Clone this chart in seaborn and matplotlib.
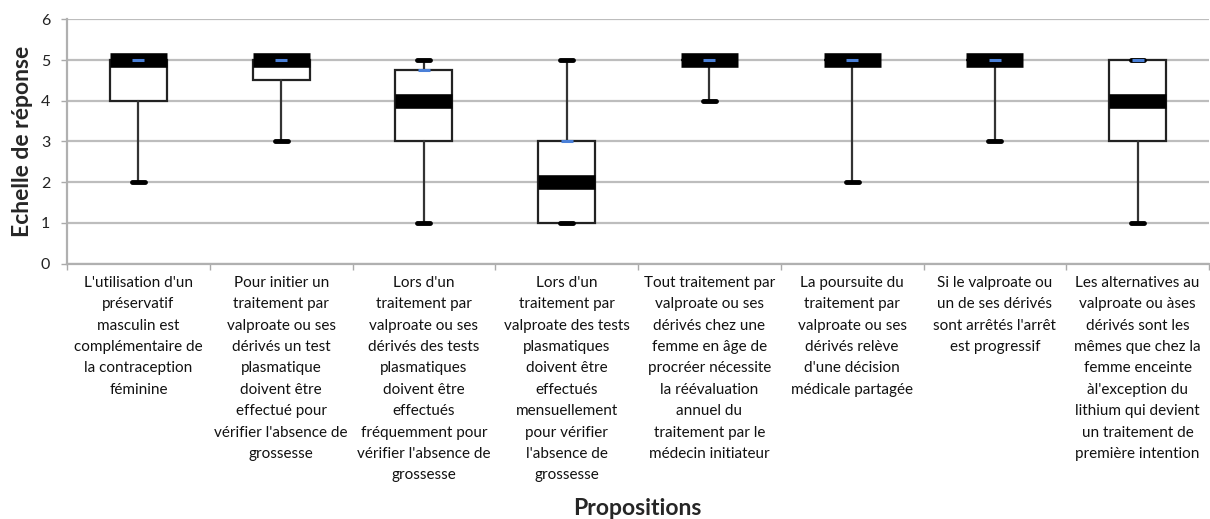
import matplotlib
matplotlib.use("Agg")
import matplotlib.pyplot as plt
import seaborn as sns
import numpy as np

categories = [
    "L'utilisation d'un\npréservatif\nmasculin est\ncomplémentaire de\nla contraception\nféminine",
    "Pour initier un\ntraitement par\nvalproate ou ses\ndérivés un test\nplasmatique\ndoivent être\neffectué pour\nvérifier l'absence de\ngrossesse",
    "Lors d'un\ntraitement par\nvalproate ou ses\ndérivés des tests\nplasmatiques\ndoivent être\neffectués\nfréquemment pour\nvérifier l'absence de\ngrossesse",
    "Lors d'un\ntraitement par\nvalproate des tests\nplasmatiques\ndoivent être\neffectués\nmensuellement\npour vérifier\nl'absence de\ngrossesse",
    "Tout traitement par\nvalproate ou ses\ndérivés chez une\nfemme en âge de\nprocréer nécessite\nla réévaluation\nannuel du\ntraitement par le\nmédecin initiateur",
    "La poursuite du\ntraitement par\nvalproate ou ses\ndérivés relève\nd'une décision\nmédicale partagée",
    "Si le valproate ou\nun de ses dérivés\nsont arrêtés l'arrêt\nest progressif",
    "Les alternatives au\nvalproate ou àses\ndérivés sont les\nmêmes que chez la\nfemme enceinte\nàl'exception du\nlithium qui devient\nun traitement de\npremière intention",
]
mins = [2, 3, 1, 1, 4, 2, 3, 1]
q1 = [4, 4.5, 3, 1, 5, 5, 5, 3]
medians = [5, 5, 4, 2, 5, 5, 5, 4]
q3 = [5, 5, 4.75, 3, 5, 5, 5, 5]
maxs = [5, 5, 5, 5, 5, 5, 5, 5]
y_ticks = [0, 1, 2, 3, 4, 5, 6]

sns.set_theme(style="white")
plt.rcParams['font.family'] = ['Lato', 'DejaVu Sans']

fig = plt.figure(figsize=(12.10, 5.19), dpi=100)
ax = fig.add_axes([67 / 1210, 1 - 263.5 / 519, (1209 - 67) / 1210, (263.5 - 19.3) / 519])

positions = np.arange(len(categories))
stats = []
for i in range(len(categories)):
    stats.append(dict(whislo=mins[i], q1=q1[i], med=medians[i], q3=q3[i], whishi=maxs[i], label=""))

ax.bxp(stats, positions=positions, widths=0.4, showfliers=False, patch_artist=True,
       boxprops=dict(facecolor="white", edgecolor="#222222", linewidth=1.6),
       medianprops=dict(color="black", linewidth=10.5, solid_capstyle="butt"),
       whiskerprops=dict(color="#333333", linewidth=1.6),
       capprops=dict(color="black", linewidth=3.5, solid_capstyle="round"),
       capwidths=0.09, zorder=3)

sns.scatterplot(x=positions, y=q3, marker="_", s=70, color="#4a80d8", linewidth=2.2,
                ax=ax, zorder=6, legend=False)

ax.set_xlim(-0.5, len(categories) - 0.5)
ax.set_ylim(0, 6)
ax.set_yticks(y_ticks)
ax.set_yticklabels([str(v) for v in y_ticks], fontsize=11.5, color="#222222")
ax.yaxis.grid(True, color="#bdbdbd", linewidth=1.6)
ax.set_axisbelow(True)

ax.set_xticks(positions)
ax.set_xticklabels(categories, fontsize=11, color="#111111", linespacing=1.67)
ax.set_xticks(np.arange(len(categories) + 1) - 0.5, minor=True)
ax.tick_params(axis="x", which="major", length=0, pad=9)
ax.tick_params(axis="x", which="minor", length=4, color="#aaaaaa", width=1, direction="out", bottom=True)
ax.tick_params(axis="y", length=4, color="#aaaaaa", width=1, left=True, pad=8)

for s in ["top", "right"]:
    ax.spines[s].set_visible(False)
for s in ["left", "bottom"]:
    ax.spines[s].set_color("#b0b0b0")
    ax.spines[s].set_linewidth(1.6)

ax.set_ylabel("Echelle de réponse", fontsize=16.5, fontweight="bold", labelpad=6)
fig.text(0.527, 0.0, "Propositions", fontsize=16.5, fontweight="bold", ha="center", va="bottom")

fig.savefig("out.png", dpi=100)
